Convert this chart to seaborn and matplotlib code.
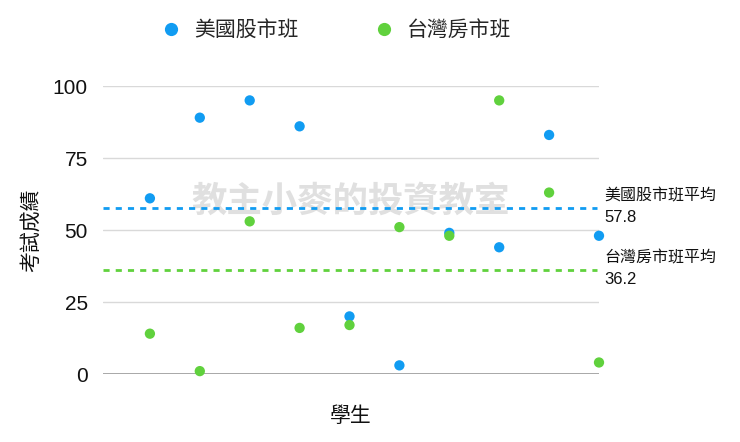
import numpy as np
import pandas as pd
import matplotlib
matplotlib.use("Agg")
import matplotlib.pyplot as plt
import seaborn as sns
from matplotlib.lines import Line2D

# ------------------------------
# Data
# ------------------------------
students = list(range(1, 11))
us_stock_class = [61, 89, 95, 86, 20, 3, 49, 44, 83, 48]
tw_house_class = [14, 1, 53, 16, 17, 51, 48, 95, 63, 4]
series_names = ["美國股市班", "台灣房市班"]
y_ticks = [0, 25, 50, 75, 100]

colors = {"美國股市班": "#119cf2", "台灣房市班": "#60d13d"}

df = pd.DataFrame({
    "學生": students * 2,
    "考試成績": us_stock_class + tw_house_class,
    "班級": [series_names[0]] * 10 + [series_names[1]] * 10,
})
means = df.groupby("班級")["考試成績"].mean()

# ------------------------------
# Style
# ------------------------------
sns.set_theme(style="white")
plt.rcParams['font.family'] = ['Noto Sans CJK TC', 'DejaVu Sans']
num_font = ['Liberation Sans', 'DejaVu Sans']

fig = plt.figure(figsize=(7.4, 4.42), dpi=100)
ax = fig.add_axes([103 / 740, 1 - 374 / 442, 496 / 740, 288 / 442])

# watermark
ax.text(0.5, 0.6, "教主小麥的投資教室", transform=ax.transAxes,
        ha="center", va="center", fontsize=25.5, color="#e0e0e0",
        fontweight="bold", zorder=0)

# grid
for t in y_ticks:
    ax.axhline(t, color="#999999" if t == 0 else "#d9d9d9",
               lw=1.2 if t == 0 else 1, zorder=1)

# mean lines
for name in series_names:
    m = means[name]
    ax.plot([0.06, 9.96], [m, m], color=colors[name], lw=2,
            ls=(0, (2.2, 2.2)), zorder=2)
    ax.text(1.01, m + 4, f"{name}平均", transform=ax.get_yaxis_transform(),
            ha="left", va="center", fontsize=11.5, color="#111111")
    ax.text(1.01, m - 3.5, f"{m:.1f}", transform=ax.get_yaxis_transform(),
            ha="left", va="center", fontsize=12, color="#111111", family=num_font)

sns.scatterplot(data=df, x="學生", y="考試成績", hue="班級", palette=colors,
                s=55, edgecolor="none", ax=ax, legend=False, zorder=3,
                clip_on=False)

ax.set_xlim(0.06, 10)
ax.set_ylim(0, 100)
ax.set_yticks(y_ticks)
ax.set_xticks([])
ax.tick_params(axis="y", length=0, pad=11, labelsize=15, labelcolor="#111111")
for lab in ax.get_yticklabels():
    lab.set_family(num_font)
for s in ax.spines.values():
    s.set_visible(False)

ax.set_xlabel("學生", fontsize=15, color="#111111", labelpad=22)
ax.set_ylabel("考試成績", fontsize=15, color="#111111", labelpad=8)

handles = [Line2D([0], [0], marker="o", ls="none", markersize=9.5,
                  markerfacecolor=colors[n], markeredgecolor="none") for n in series_names]
fig.legend(handles, series_names, loc="center", bbox_to_anchor=(336 / 740, 1 - 30 / 442),
           ncol=2, frameon=False, fontsize=15, columnspacing=3.6, handletextpad=0.6,
           handlelength=1)

fig.savefig("out.png", dpi=100)
